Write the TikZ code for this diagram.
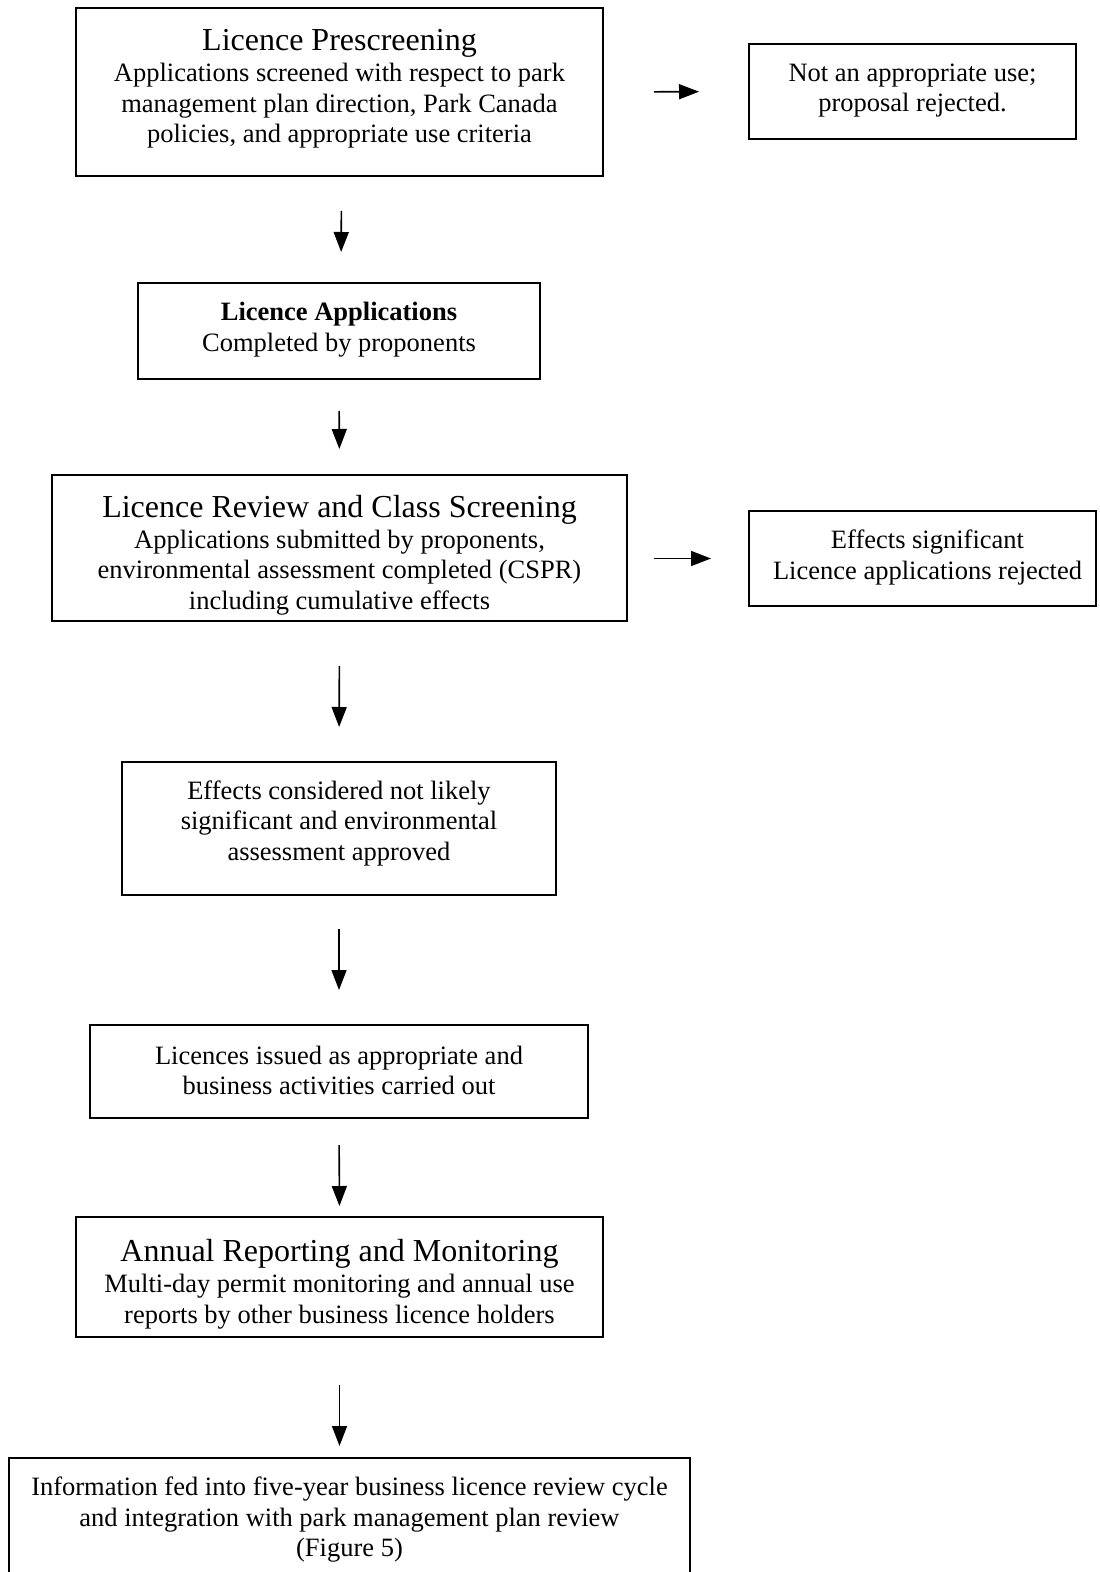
\documentclass[tikz,border=0pt]{standalone}
\usepackage{fontspec}
\setmainfont{Liberation Serif}
\usetikzlibrary{arrows.meta}

\tikzset{
  box/.style={draw, line width=1pt, align=center, inner sep=0pt,
    font=\fontsize{13.25}{15.25}\selectfont},
  flow/.style={line width=0.8pt, -{Triangle[length=10pt,width=7.5pt]}},
}
\newcommand{\boxtitle}[1]{{\fontsize{16}{17}\selectfont #1}}

\begin{document}
\begin{tikzpicture}[x=0.5pt,y=-0.5pt]
    \useasboundingbox (0,0) rectangle (1099,1572);
    \clip (0,0) rectangle (1099,1572);
    % main column
    \node [box, minimum width=263.5pt, minimum height=84pt, text depth=6.25pt] (prescreen) at (339.5,92)
      {\boxtitle{Licence Prescreening}\\[0.5pt]
       Applications screened with respect to park\\
       management plan direction, Park Canada\\
       policies, and appropriate use criteria};
    \node [box, minimum width=201pt, minimum height=48pt, text depth=4pt] (apps) at (339,331)
      {\textbf{Licence Applications}\\ Completed by proponents};
    \node [box, minimum width=287.5pt, minimum height=73pt, text height=61pt, text depth=0pt] (review) at (339.5,548)
      {\boxtitle{Licence Review and Class Screening}\\[0pt]
       Applications submitted by proponents,\\
       environmental assessment completed (CSPR)\\
       including cumulative effects};
    \node [box, minimum width=217pt, minimum height=66.5pt, text depth=8pt] (effects) at (339,828.5)
      {Effects considered not likely\\ significant and environmental\\ assessment approved};
    \node [box, minimum width=249pt, minimum height=46.5pt, text depth=1pt] (issued) at (339,1071.5)
      {Licences issued as appropriate and\\ business activities carried out};
    \node [box, minimum width=263.5pt, minimum height=60pt, text height=46pt, text depth=0pt] (annual) at (339.5,1277)
      {\boxtitle{Annual Reporting and Monitoring}\\[0.5pt]
       Multi-day permit monitoring and annual use\\
       reports by other business licence holders};
    \node [box, minimum width=340.5pt, minimum height=75pt, text depth=16pt, anchor=north] (info) at (349.5,1457)
      {Information fed into five-year business licence review cycle\\
       and integration with park management plan review\\ (Figure 5)};
    % side boxes
    \node [box, minimum width=163.5pt, minimum height=47.5pt, text depth=4pt] (reject1) at (912.5,91.5)
      {Not an appropriate use;\\ proposal rejected.};
    \node [box, minimum width=173.5pt, minimum height=47.5pt, text depth=4pt] (reject2) at (922.5,558.5)
      {\hspace*{5pt}Effects significant\\ \hspace*{5pt}Licence applications rejected};
    % arrows
    \draw [flow, shorten <=17pt, shorten >=15pt] ([xshift=1pt]prescreen.south) -- ([xshift=1pt]apps.north);
    \draw [flow, shorten <=15.5pt, shorten >=12.5pt] (apps.south) -- (review.north);
    \draw [flow, shorten <=22pt, shorten >=17pt] (review.south) -- (effects.north);
    \draw [flow, shorten <=16.5pt, shorten >=17pt] (effects.south) -- (issued.north);
    \draw [flow, shorten <=13pt, shorten >=5pt] (issued.south) -- (annual.north);
    \draw [flow, shorten <=23.5pt, shorten >=5.5pt] (annual.south) -- (annual.south |- info.north);
    \draw [flow, shorten <=25pt, shorten >=24.5pt] (prescreen.east) -- (reject1.west);
    \draw [flow, shorten <=13pt, shorten >=18.5pt] (review.east |- reject2.west) -- (reject2.west);
\end{tikzpicture}
\end{document}
